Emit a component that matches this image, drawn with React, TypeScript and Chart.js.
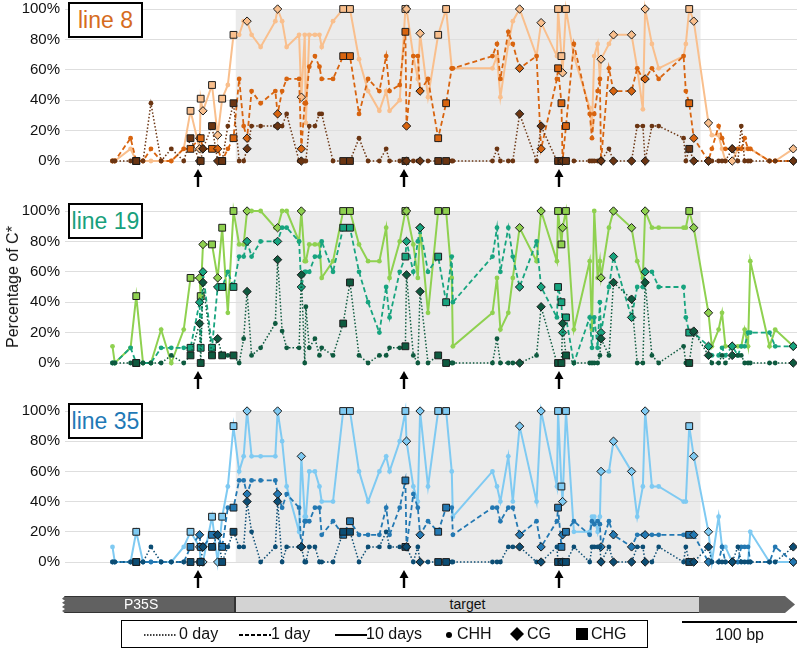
import React, { useEffect, useRef } from 'react';
import { Chart, registerables } from 'chart.js';
Chart.register(...registerables);

const FONT = "'Liberation Sans', Arial, Helvetica, sans-serif";

// cytosine positions (bp, relative to start of the drawn region)
const positions = [
  42, 44, 58, 63, 69, 76, 85, 94, 105, 111,
  119, 120, 122, 130, 135, 139, 144, 149, 154, 158,
  161, 165, 173, 186, 188, 192, 196, 207, 209, 212,
  213, 216, 221, 225, 227, 237, 246, 252, 260, 268,
  278, 284, 287, 296, 301, 302, 308, 312, 314, 321,
  330, 337, 342, 343, 378, 382, 385, 392, 396, 402,
  417, 421, 435, 436, 439, 440, 443, 450, 464, 466,
  468, 471, 473, 474, 481, 485, 501, 506, 511, 513,
  519, 525, 547, 549, 552, 556, 569, 572, 578, 581,
  584, 590, 595, 598, 601, 604, 606, 623, 628, 644,
];

const contexts = [
  'CHH', 'CHH', 'CHH', 'CHG', 'CHH', 'CHH', 'CHH', 'CHH', 'CHH', 'CHG',
  'CG', 'CHG', 'CG', 'CHG', 'CG', 'CHG', 'CHH', 'CHG', 'CHH', 'CHH',
  'CG', 'CHH', 'CHH', 'CHH', 'CG', 'CHH', 'CHH', 'CHH', 'CG', 'CHH',
  'CHH', 'CHH', 'CHH', 'CHH', 'CHH', 'CHH', 'CHG', 'CHG', 'CHH', 'CHH',
  'CHH', 'CHH', 'CHH', 'CHH', 'CHG', 'CG', 'CHH', 'CHH', 'CG', 'CHH',
  'CHG', 'CHG', 'CHH', 'CHH', 'CHH', 'CHH', 'CHH', 'CHH', 'CHH', 'CG',
  'CHH', 'CG', 'CHH', 'CHG', 'CHG', 'CG', 'CHG', 'CHH', 'CHH', 'CHH',
  'CHH', 'CHH', 'CHH', 'CG', 'CHH', 'CG', 'CG', 'CHH', 'CHH', 'CG',
  'CHH', 'CHH', 'CHH', 'CHH', 'CHG', 'CG', 'CG', 'CHH', 'CHH', 'CHH',
  'CHH', 'CG', 'CHH', 'CHH', 'CHH', 'CHH', 'CHH', 'CHH', 'CHH', 'CG',
];

const targetStart = 151;
const targetEnd = 562;
const arrowPositions = [118, 300, 437];
const yTicks = [0, 20, 40, 60, 80, 100];
const xMax = 648;

// line 8
const line8_10days = [
  0, 0, 8, 0, 0, 0, 0, 0, 8, 33,
  8, 41, 33, 50, 17, 41, 50, 83, 83, 92,
  92, 83, 75, 92, 100, 92, 75, 83, 42, 83,
  25, 83, 83, 83, 75, 92, 100, 100, 67, 46,
  33, 46, 33, 40, 100, 100, 69, 54, 84, 42,
  83, 100, 61, 61, 61, 69, 42, 77, 92, 100,
  69, 91, 69, 100, 69, 58, 100, 69, 35, 23,
  69, 77, 54, 67, 77, 83, 83, 61, 34, 100,
  77, 61, 69, 77, 100, 92, 25, 17, 17, 8,
  0, 0, 8, 8, 8, 8, 8, 0, 0, 8,
];
const line8_1day = [
  0, 0, 15, 0, 0, 8, 0, 0, 8, 8,
  15, 15, 8, 8, 8, 0, 8, 15, 54, 23,
  15, 46, 38, 46, 31, 46, 54, 54, 8, 38,
  38, 62, 69, 62, 54, 54, 69, 69, 31, 54,
  46, 69, 46, 50, 85, 23, 69, 69, 46, 54,
  15, 38, 61, 61, 69, 77, 54, 85, 77, 61,
  69, 8, 54, 61, 38, 0, 23, 77, 31, 15,
  31, 46, 54, 0, 61, 46, 46, 61, 54, 54,
  61, 54, 69, 46, 38, 15, 0, 8, 23, 15,
  8, 8, 8, 8, 15, 8, 8, 0, 0, 0,
];
const line8_0day = [
  0, 0, 0, 0, 0, 38, 0, 8, 0, 15,
  0, 0, 8, 23, 0, 0, 23, 38, 0, 0,
  8, 23, 23, 23, 23, 23, 31, 0, 0, 0,
  0, 23, 23, 31, 31, 0, 0, 0, 15, 0,
  0, 8, 0, 0, 0, 0, 0, 0, 0, 0,
  0, 0, 0, 0, 0, 8, 0, 0, 0, 31,
  0, 23, 0, 0, 0, 0, 0, 0, 0, 0,
  0, 0, 0, 0, 8, 0, 0, 23, 23, 0,
  23, 23, 15, 0, 8, 0, 0, 0, 0, 0,
  0, 8, 0, 23, 0, 0, 0, 0, 0, 0,
];

// line 19
const line19_10days = [
  11, 0, 10, 44, 0, 0, 22, 0, 22, 56,
  56, 44, 78, 78, 56, 89, 33, 100, 78, 78,
  100, 100, 100, 89, 89, 100, 100, 80, 100, 67,
  67, 78, 78, 78, 56, 67, 100, 100, 78, 67,
  67, 89, 56, 80, 100, 100, 78, 56, 89, 33,
  100, 100, 56, 11, 33, 56, 22, 33, 56, 89,
  67, 100, 67, 100, 78, 89, 100, 22, 67, 22,
  100, 56, 67, 56, 89, 100, 89, 67, 56, 100,
  89, 89, 89, 89, 100, 89, 33, 11, 22, 33,
  11, 11, 11, 11, 22, 11, 67, 11, 22, 11,
];
const line19_1day = [
  0, 0, 10, 0, 0, 0, 10, 10, 10, 10,
  40, 10, 60, 10, 50, 50, 60, 50, 70, 70,
  80, 70, 80, 80, 80, 89, 89, 80, 50, 60,
  60, 60, 70, 70, 80, 60, 89, 89, 60, 40,
  20, 50, 30, 60, 70, 80, 60, 80, 89, 60,
  70, 40, 70, 40, 70, 89, 60, 89, 70, 50,
  80, 50, 30, 50, 40, 20, 30, 0, 30, 10,
  30, 10, 40, 20, 50, 70, 30, 50, 50, 60,
  60, 50, 50, 30, 20, 20, 11, 5, 5, 10,
  5, 11, 5, 11, 11, 20, 20, 20, 11, 11,
];
const line19_0day = [
  0, 0, 0, 0, 0, 0, 0, 5, 0, 5,
  26, 0, 53, 5, 16, 5, 5, 5, 0, 16,
  47, 5, 10, 26, 68, 21, 10, 10, 58, 0,
  37, 10, 16, 5, 10, 5, 26, 53, 5, 0,
  5, 5, 10, 10, 11, 58, 5, 0, 47, 0,
  5, 0, 0, 0, 0, 16, 0, 0, 0, 0,
  5, 37, 0, 0, 0, 26, 5, 0, 0, 0,
  0, 0, 5, 16, 5, 53, 42, 0, 0, 53,
  5, 0, 11, 0, 0, 21, 5, 0, 0, 5,
  0, 5, 5, 5, 0, 0, 0, 0, 0, 0,
];

// line 35
const line35_10days = [
  10, 0, 0, 20, 0, 0, 0, 0, 10, 20,
  10, 0, 0, 30, 0, 30, 50, 90, 60, 70,
  100, 70, 70, 70, 100, 80, 50, 20, 70, 30,
  30, 60, 60, 50, 40, 40, 100, 100, 60, 40,
  60, 70, 60, 80, 100, 80, 50, 40, 100, 50,
  100, 100, 60, 30, 60, 50, 40, 70, 40, 90,
  40, 100, 50, 100, 50, 40, 100, 20, 20, 30,
  30, 20, 30, 60, 60, 80, 60, 30, 50, 100,
  50, 50, 40, 40, 90, 70, 20, 0, 30, 10,
  10, 0, 0, 0, 0, 0, 20, 0, 0, 0,
];
const line35_1day = [
  0, 0, 0, 0, 0, 0, 0, 0, 0, 10,
  18, 10, 10, 18, 18, 10, 36, 36, 54, 54,
  45, 54, 54, 54, 45, 36, 45, 36, 10, 27,
  27, 27, 36, 36, 18, 27, 18, 27, 18, 18,
  18, 36, 18, 36, 54, 10, 45, 36, 18, 27,
  20, 36, 36, 18, 36, 36, 27, 36, 36, 18,
  27, 10, 27, 36, 10, 18, 20, 27, 18, 27,
  25, 27, 25, 10, 27, 18, 10, 18, 18, 18,
  18, 18, 18, 18, 18, 18, 0, 0, 0, 10,
  0, 0, 0, 10, 10, 10, 0, 0, 10, 0,
];
const line35_0day = [
  0, 0, 0, 0, 0, 10, 0, 0, 0, 0,
  0, 0, 10, 10, 18, 0, 10, 20, 10, 10,
  40, 20, 0, 10, 40, 0, 10, 10, 10, 0,
  0, 10, 10, 0, 0, 0, 20, 20, 0, 10,
  10, 20, 10, 10, 10, 10, 0, 10, 0, 0,
  0, 0, 0, 0, 0, 0, 0, 10, 10, 10,
  0, 0, 10, 0, 0, 0, 0, 10, 0, 10,
  10, 10, 10, 0, 10, 0, 0, 10, 10, 0,
  0, 10, 0, 10, 0, 0, 10, 0, 0, 0,
  0, 0, 10, 0, 0, 0, 0, 0, 0, 10,
];

const seriesNames = ['0 day', '1 day', '10 days'];

const panels = [
  {
    name: 'line 8', nameColor: '#d66c1e', top: -5, padTop: 14, padBottom: 34, boxTop: 2,
    values: [line8_0day, line8_1day, line8_10days],
    colors: ['#6b3512', '#d8640f', '#f9bf8d'],
  },
  {
    name: 'line 19', nameColor: '#18a07c', top: 197, padTop: 14, padBottom: 34, boxTop: 203,
    values: [line19_0day, line19_1day, line19_10days],
    colors: ['#0e5a3f', '#17a47f', '#8fd150'],
  },
  {
    name: 'line 35', nameColor: '#1f79b6', top: 397, padTop: 14, padBottom: 35, boxTop: 403,
    values: [line35_0day, line35_1day, line35_10days],
    colors: ['#0c4d74', '#2378b2', '#7fcaf2'],
  },
];

const lineStyles = [
  { width: 1.5, dash: [1.5, 2] },
  { width: 1.8, dash: [5, 3] },
  { width: 2, dash: [] as number[] },
];

const styleFor = (c: string) => (c === 'CG' ? 'rectRot' : c === 'CHG' ? 'rect' : 'circle');
const radiusFor = (c: string) => (c === 'CG' ? 4.2 : c === 'CHG' ? 4.8 : 2.4);

const shadePlugin = {
  id: 'shade',
  beforeDraw(chart: any) {
    const { ctx, chartArea, scales } = chart;
    const x0 = scales.x.getPixelForValue(targetStart);
    const x1 = scales.x.getPixelForValue(targetEnd);
    ctx.save();
    ctx.fillStyle = '#ebebeb';
    ctx.fillRect(x0, chartArea.top, x1 - x0, chartArea.bottom - chartArea.top);
    ctx.restore();
  },
  afterDraw(chart: any) {
    const { ctx, chartArea, scales } = chart;
    ctx.save();
    ctx.fillStyle = '#000';
    ctx.strokeStyle = '#000';
    ctx.lineWidth = 2.4;
    for (const p of arrowPositions) {
      const x = Math.round(scales.x.getPixelForValue(p));
      const yTop = chartArea.bottom + 8;
      ctx.beginPath();
      ctx.moveTo(x, yTop + 6);
      ctx.lineTo(x, yTop + 18);
      ctx.stroke();
      ctx.beginPath();
      ctx.moveTo(x, yTop);
      ctx.lineTo(x - 4.5, yTop + 8);
      ctx.lineTo(x + 4.5, yTop + 8);
      ctx.closePath();
      ctx.fill();
    }
    ctx.restore();
  },
};

function Panel({ panel }: { panel: any }) {
  const ref = useRef<HTMLCanvasElement>(null);
  useEffect(() => {
    if (!ref.current) return;
    const datasets = panel.values.map((vals: number[], si: number) => {
      const color = panel.colors[si];
      return {
        label: seriesNames[si],
        data: positions.map((p, i) => ({ x: p, y: vals[i] })),
        borderColor: color,
        backgroundColor: color,
        borderWidth: lineStyles[si].width,
        borderDash: lineStyles[si].dash,
        pointStyle: contexts.map(styleFor),
        pointRadius: contexts.map(radiusFor),
        pointBackgroundColor: color,
        pointBorderColor: contexts.map((c) => (c === 'CHH' ? color : '#1b1b1b')),
        pointBorderWidth: contexts.map((c) => (c === 'CHH' ? 0 : 1)),
        tension: 0,
        clip: false,
      };
    });
    const chart = new Chart(ref.current, {
      type: 'line',
      data: { datasets },
      options: {
        animation: false,
        responsive: false,
        maintainAspectRatio: false,
        layout: { padding: { top: panel.padTop, bottom: panel.padBottom, left: 0, right: 0 } },
        plugins: { legend: { display: false }, tooltip: { enabled: false } },
        scales: {
          x: { type: 'linear', min: 0, max: xMax, display: false },
          y: {
            min: 0,
            max: 100,
            afterFit: (s: any) => { s.width = 65; },
            afterBuildTicks: (s: any) => { s.ticks = yTicks.map((v) => ({ value: v })); },
            border: { display: false },
            grid: { color: '#dedede', lineWidth: 1, drawTicks: false },
            ticks: {
              padding: 5,
              color: '#111',
              font: { size: 15, family: FONT },
              callback: (v: any) => v + '%',
            },
          },
        },
      },
      plugins: [shadePlugin],
    });
    return () => chart.destroy();
  }, [panel]);
  return (
    <canvas
      ref={ref}
      width={803}
      height={200}
      style={{ position: 'absolute', left: 0, top: panel.top, width: 803, height: 200 }}
    />
  );
}

function LegendLine({ dash, width }: { dash: string; width: number }) {
  return (
    <svg width={32} height={10} style={{ position: 'absolute', top: 9 }}>
      <line x1={0} y1={5} x2={32} y2={5} stroke="#000" strokeWidth={width} strokeDasharray={dash} />
    </svg>
  );
}

export default function App() {
  const textStyle: React.CSSProperties = { position: 'absolute', fontSize: 16, color: '#111', top: 4, whiteSpace: 'nowrap' };
  return (
    <div style={{ position: 'absolute', left: 0, top: 0, width: 797, height: 650, background: '#fff', fontFamily: FONT, overflow: 'hidden' }}>
      {panels.map((p) => (
        <Panel key={p.name} panel={p} />
      ))}
      {panels.map((p) => (
        <div
          key={p.name + '-box'}
          style={{
            position: 'absolute', left: 68, top: p.boxTop, width: 71, height: 32,
            border: '2px solid #000', background: '#fff', color: p.nameColor,
            fontSize: 23, lineHeight: '32px', textAlign: 'center',
          }}
        >
          {p.name}
        </div>
      ))}
      <div
        style={{
          position: 'absolute', left: 13, top: 287, transform: 'translate(-50%, -50%) rotate(-90deg)',
          fontSize: 16, whiteSpace: 'nowrap', color: '#111',
        }}
      >
        Percentage of C*
      </div>
      {/* construct diagram */}
      <div
        style={{
          position: 'absolute', left: 62, top: 596, width: 173, height: 17, background: '#616161',
          boxSizing: 'border-box', borderTop: '1px solid #333', borderBottom: '1px solid #333', borderRight: '1px solid #333',
          clipPath: 'polygon(3px 0, 100% 0, 100% 100%, 3px 100%, 0 88%, 3px 76%, 0 64%, 3px 52%, 0 40%, 3px 28%, 0 16%)',
        }}
      />
      <div style={{ position: 'absolute', left: 124, top: 596, height: 17, lineHeight: '17px', fontSize: 14, color: '#fff' }}>P35S</div>
      <div
        style={{
          position: 'absolute', left: 235, top: 596, width: 465, height: 17, background: '#d3d3d3',
          boxSizing: 'border-box', border: '1px solid #333',
        }}
      />
      <div style={{ position: 'absolute', left: 235, width: 465, top: 596, height: 17, lineHeight: '17px', fontSize: 14, color: '#111', textAlign: 'center' }}>target</div>
      <div
        style={{
          position: 'absolute', left: 699, top: 596, width: 96, height: 17, background: '#616161',
          clipPath: 'polygon(0 0, calc(100% - 10px) 0, 100% 50%, calc(100% - 10px) 100%, 0 100%)',
        }}
      />
      {/* legend */}
      <div
        style={{
          position: 'absolute', left: 121, top: 620, width: 527, height: 28,
          border: '1.5px solid #000', boxSizing: 'border-box', background: '#fff',
        }}
      >
        <div style={{ position: 'absolute', left: 22 }}><LegendLine dash="1.5 1.5" width={1.3} /></div>
        <div style={{ ...textStyle, left: 57 }}>0 day</div>
        <div style={{ position: 'absolute', left: 117 }}><LegendLine dash="4 2" width={2} /></div>
        <div style={{ ...textStyle, left: 149 }}>1 day</div>
        <div style={{ position: 'absolute', left: 213 }}><LegendLine dash="" width={2} /></div>
        <div style={{ ...textStyle, left: 244 }}>10 days</div>
        <svg width={10} height={10} style={{ position: 'absolute', left: 322, top: 9 }}>
          <circle cx={5} cy={5} r={3} fill="#000" />
        </svg>
        <div style={{ ...textStyle, left: 335 }}>CHH</div>
        <svg width={14} height={14} style={{ position: 'absolute', left: 388, top: 6 }}>
          <polygon points="7,0 14,7 7,14 0,7" fill="#000" />
        </svg>
        <div style={{ ...textStyle, left: 405 }}>CG</div>
        <svg width={12} height={12} style={{ position: 'absolute', left: 454, top: 7 }}>
          <rect x={0} y={0} width={12} height={12} fill="#000" />
        </svg>
        <div style={{ ...textStyle, left: 469 }}>CHG</div>
      </div>
      {/* scale bar */}
      <div style={{ position: 'absolute', left: 682, top: 621, width: 115, height: 2, background: '#000' }} />
      <div style={{ position: 'absolute', left: 682, width: 115, top: 626, fontSize: 16, textAlign: 'center', color: '#111' }}>100 bp</div>
    </div>
  );
}
